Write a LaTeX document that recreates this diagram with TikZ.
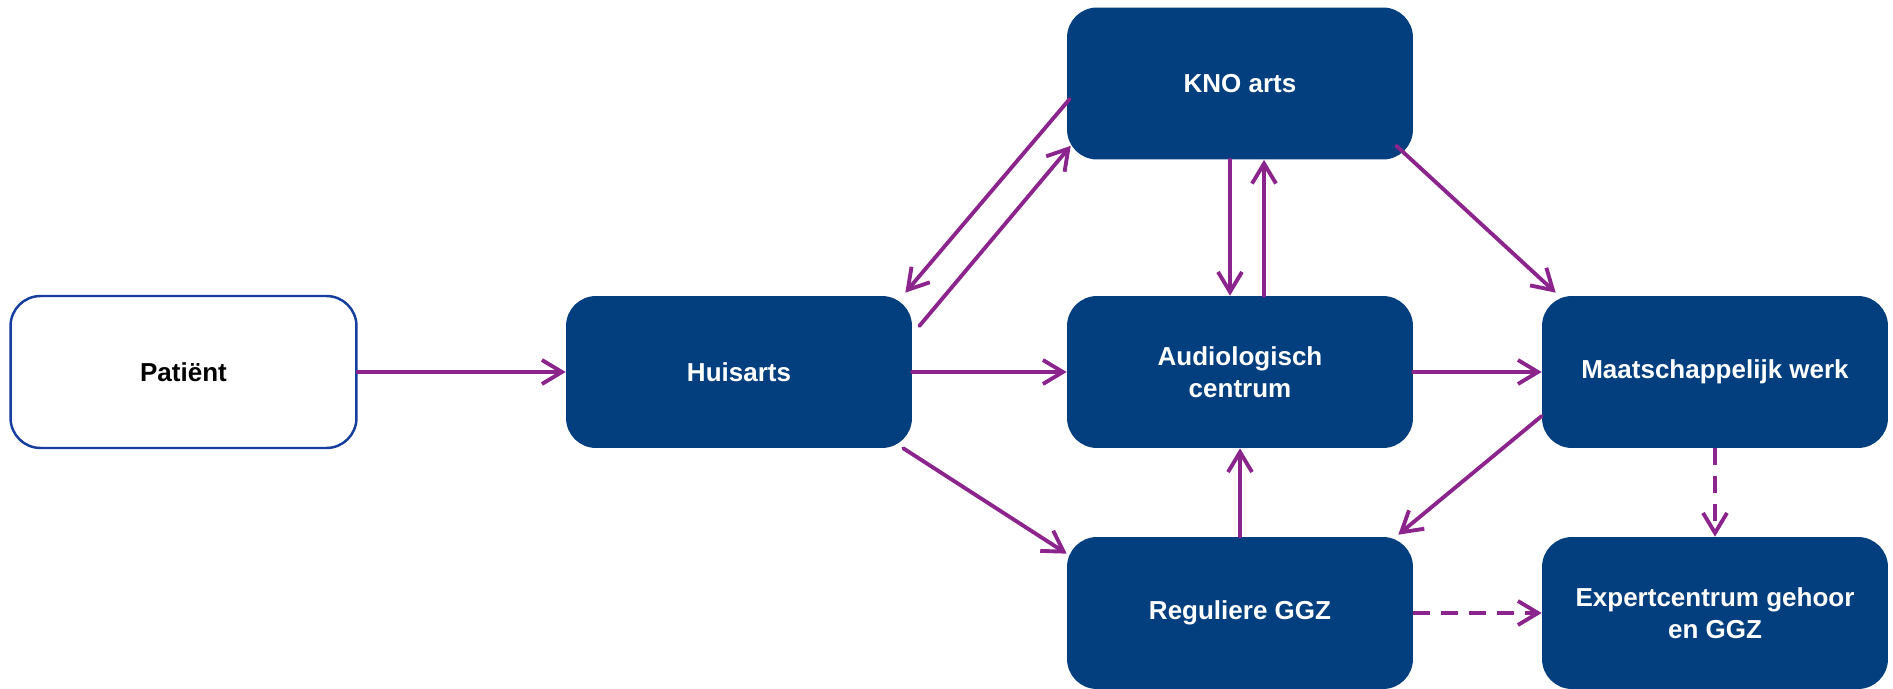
\documentclass[tikz,border=0pt]{standalone}
\usepackage{fontspec}
\setmainfont{Liberation Sans}
\usetikzlibrary{arrows.meta,calc}

\definecolor{zorgblauw}{RGB}{3,63,126}
\definecolor{randblauw}{RGB}{22,62,158}
\definecolor{pijlpaars}{RGB}{140,36,142}

\tikzset{
  zorgbox/.style={rectangle, rounded corners=0.6cm, fill=zorgblauw, text=white,
    minimum width=6.92cm, minimum height=3.04cm, align=center,
    font=\fontsize{14.8}{18}\selectfont\bfseries},
  patbox/.style={zorgbox, fill=white, draw=randblauw, line width=1.4pt, text=black},
  pijl/.style={draw=pijlpaars, line width=2.2pt, line cap=round,
    -{Straight Barb[length=0.4cm, width=0.48cm, line width=2.2pt]}},
  stippel/.style={pijl, dash pattern=on 0.34cm off 0.22cm, line cap=butt}
}

\begin{document}
\begin{tikzpicture}[x=0.02cm, y=-0.02cm]
    \useasboundingbox (0,0) rectangle (1893,689);

    \node[patbox] (patient) at (183.5,372) {Patiënt};
    \node[zorgbox] (huisarts) at (739,372) {Huisarts};
    \node[zorgbox] (kno) at (1240,83.5) {KNO arts};
    \node[zorgbox] (audio) at (1240,372) {Audiologisch\\centrum};
    \node[zorgbox] (maatwerk) at (1715,372) {Maatschappelijk werk};
    \node[zorgbox] (ggz) at (1240,613) {Reguliere GGZ};
    \node[zorgbox] (expert) at (1715,613) {Expertcentrum gehoor\\en GGZ};

    % rechte verbindingen
    \draw[pijl] (patient) -- (huisarts);
    \draw[pijl] (huisarts) -- (audio);
    \draw[pijl] (audio) -- (maatwerk);
    \draw[pijl] (ggz.north) -- (audio.south);

    % schuine verbindingen
    \draw[pijl] ($(kno.west)+(3,15.5)$) -- ($(huisarts.north east)+(-7,-3)$);
    \draw[pijl] ($(huisarts.east)+(7,-46)$) -- ($(kno.south west)+(4,-14)$);
    \draw[pijl] ($(kno.south east)+(-17,-14)$) -- ($(maatwerk.north west)+(14,-3)$);
    \draw[pijl] ($(huisarts.south east)+(-9,0)$) -- ($(ggz.north west)+(0,17)$);
    \draw[pijl] ($(maatwerk.west)+(0,44)$) -- ($(ggz.north east)+(-15,-2)$);

    % KNO <-> audiologisch centrum
    \draw[pijl] ($(kno.south)+(-10,0)$) -- ($(audio.north)+(-10,0)$);
    \draw[pijl] ($(audio.north)+(24,0)$) -- ($(kno.south)+(24,0)$);

    % gestippeld naar expertcentrum
    \draw[stippel] (maatwerk.south) -- (expert.north);
    \draw[stippel] (ggz.east) -- (expert.west);
\end{tikzpicture}
\end{document}
